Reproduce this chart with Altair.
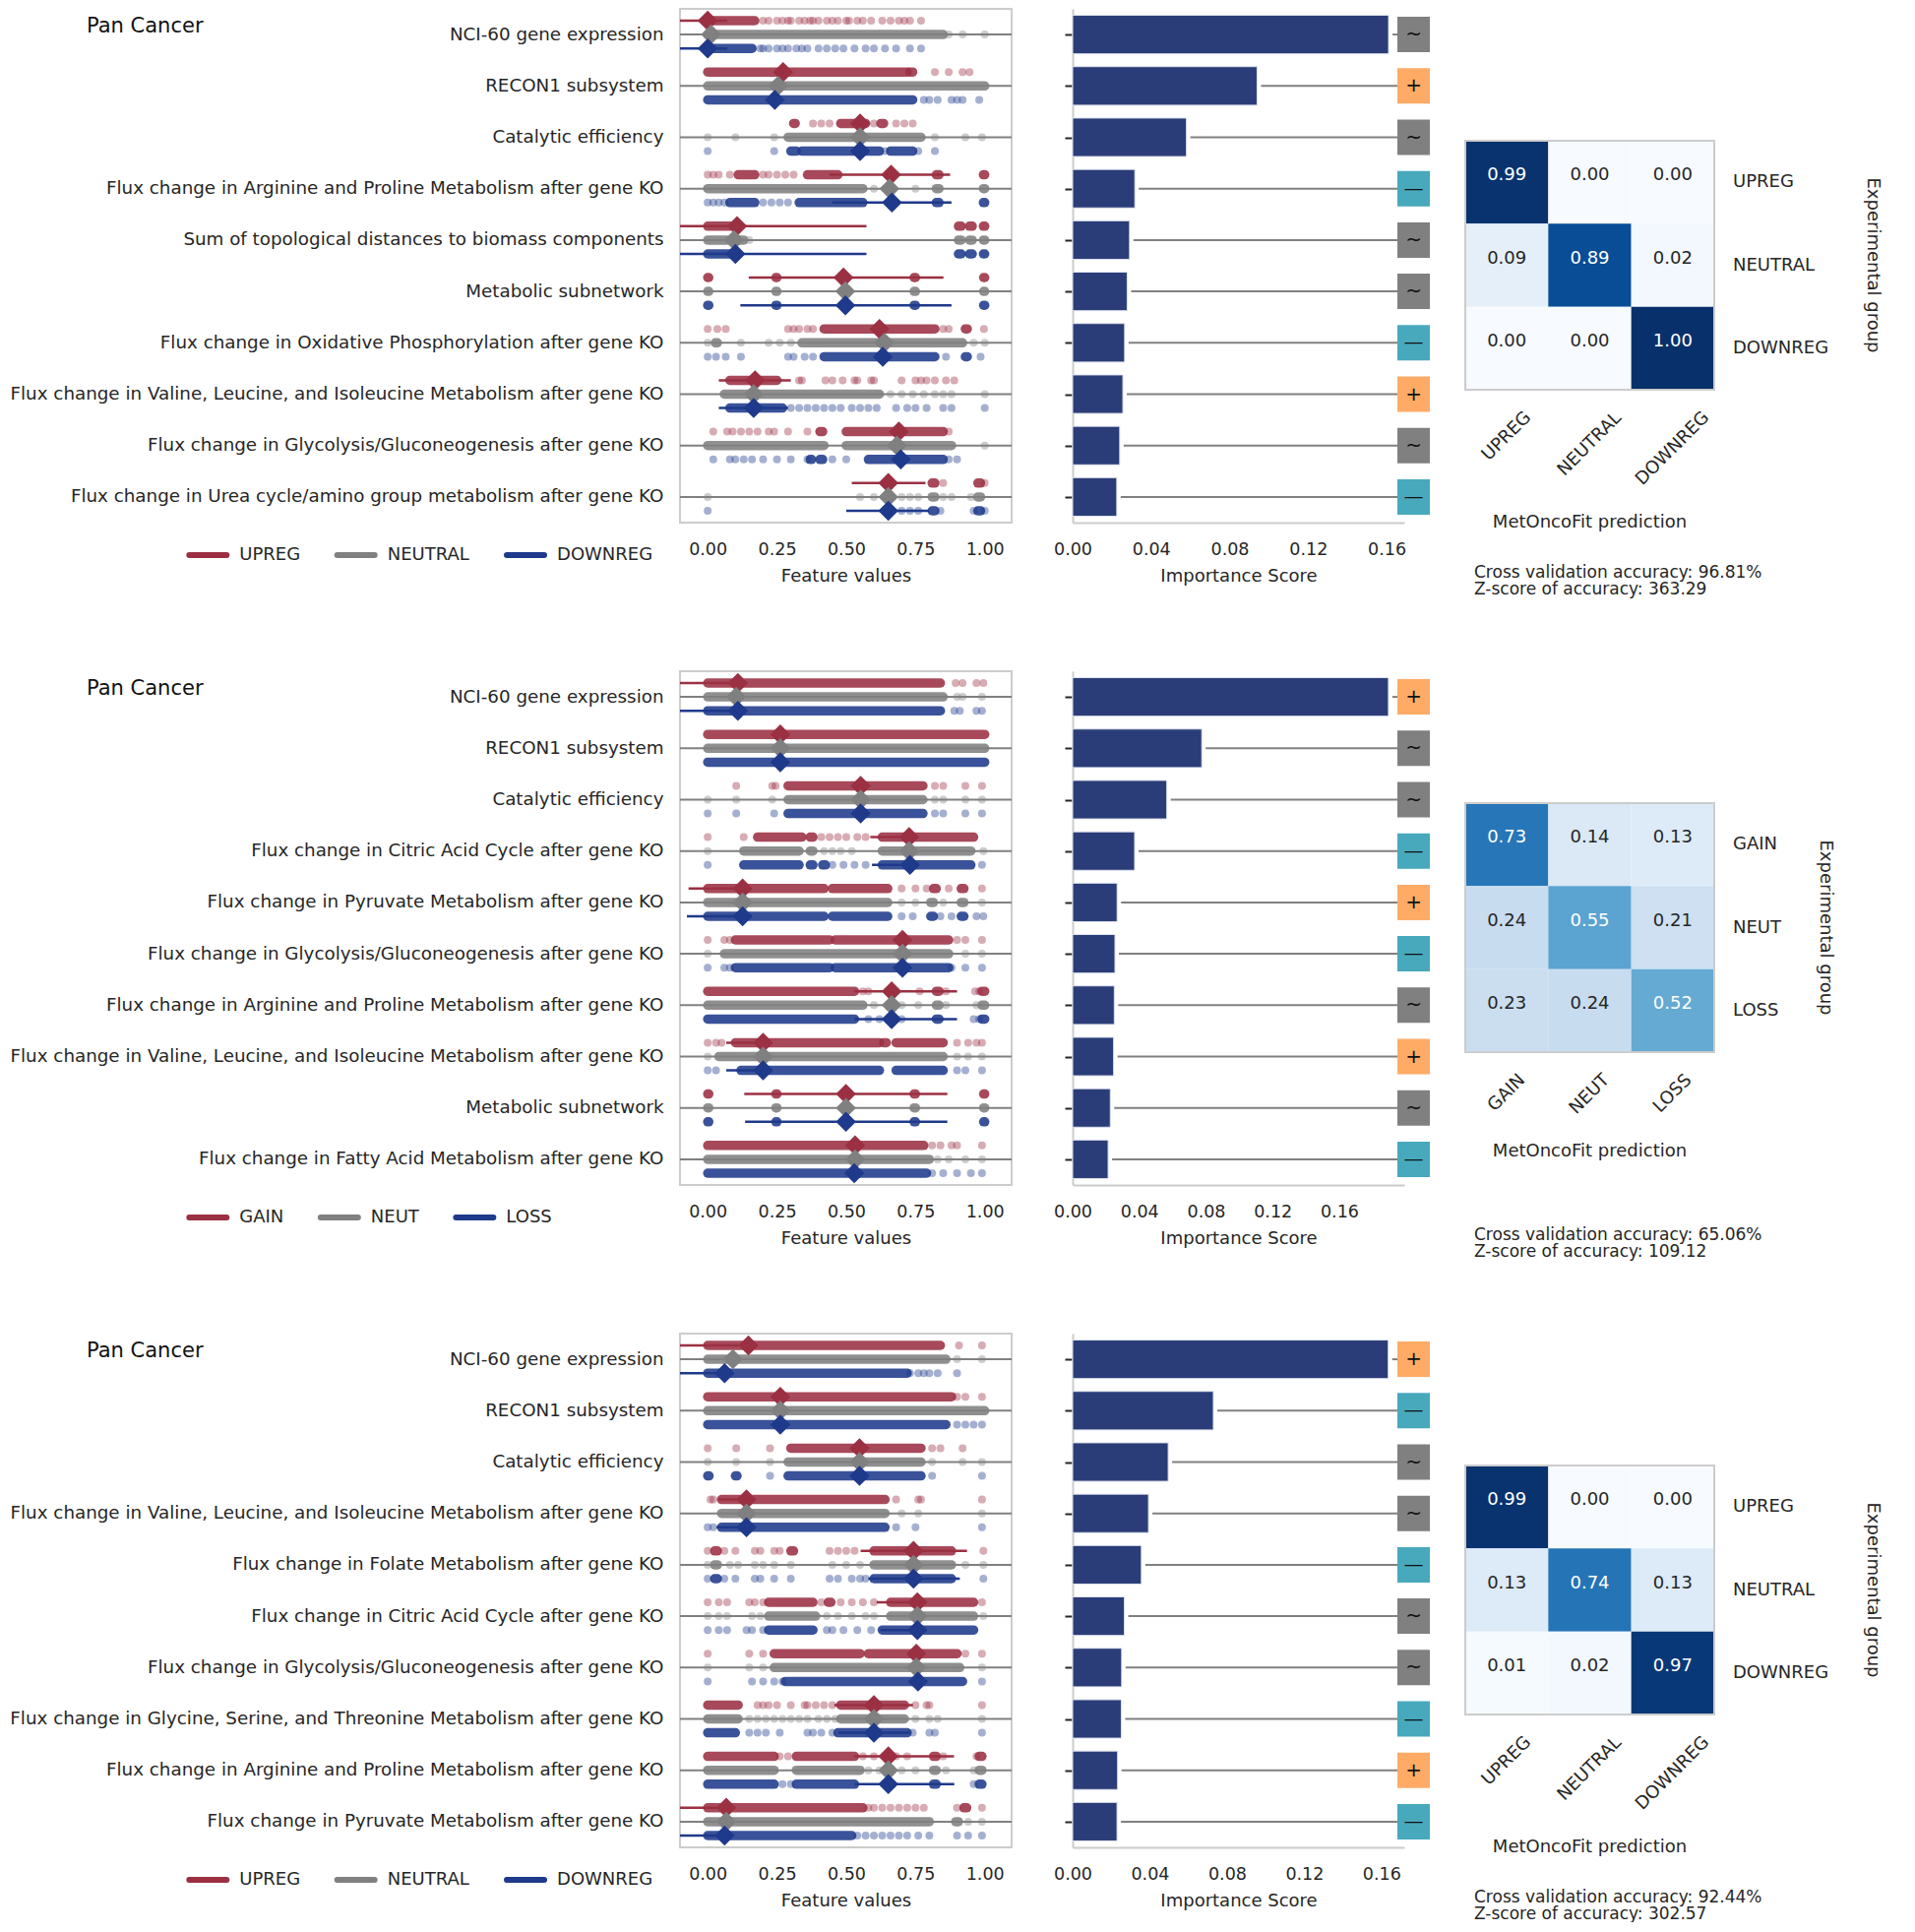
import json
import altair as alt
import pandas as pd

FONT = "DejaVu Sans"
TEXT = "#262626"
FRAME = "#cccccc"
GRAY = "#808080"
RED = "#9b3043"
BLUE = "#1f3a8b"
BAR = "#2b3d78"
SIGN_DOMAIN = ["+", "~", "-"]
SIGN_RANGE = ["#ffab66", "#808080", "#48a9bd"]
SIGN_GLYPH = {"+": "+", "~": "~", "-": "\u2014"}
BLUES_STOPS = [0, 0.125, 0.25, 0.375, 0.5, 0.625, 0.75, 0.875, 1.0]
BLUES = ["#f7fbff", "#deebf7", "#c6dbef", "#9ecae1", "#6baed6", "#4292c6", "#2171b5", "#08519c", "#08306b"]

# ---------------------------------------------------------------- panel 1
P1_TITLE = "Pan Cancer"
P1_GROUPS = ["UPREG", "NEUTRAL", "DOWNREG"]
P1_FEATURES = [
    "NCI-60 gene expression",
    "RECON1 subsystem",
    "Catalytic efficiency",
    "Flux change in Arginine and Proline Metabolism after gene KO",
    "Sum of topological distances to biomass components",
    "Metabolic subnetwork",
    "Flux change in Oxidative Phosphorylation after gene KO",
    "Flux change in Valine, Leucine, and Isoleucine Metabolism after gene KO",
    "Flux change in Glycolysis/Gluconeogenesis after gene KO",
    "Flux change in Urea cycle/amino group metabolism after gene KO",
]
P1_IMPORTANCE = [0.161, 0.094, 0.058, 0.0317, 0.029, 0.0278, 0.0265, 0.0256, 0.024, 0.0225]
P1_SIGNS = ["~", "+", "~", "-", "~", "~", "-", "+", "~", "-"]
P1_XMAX = 0.169
P1_MEAN = [
    [0.0, 0.012, 0.0], [0.272, 0.254, 0.242], [0.55, 0.55, 0.55], [0.662, 0.656, 0.665],
    [0.106, 0.095, 0.1], [0.49, 0.497, 0.497], [0.62, 0.638, 0.632], [0.171, 0.166, 0.166],
    [0.69, 0.683, 0.697], [0.652, 0.652, 0.652],
]
P1_CI = [  # [upper group CI, lower group CI]
    [[-0.1, 0.07], [-0.1, 0.07]], [[0.25, 0.29], [0.22, 0.26]], [[0.53, 0.57], [0.53, 0.57]],
    [[0.44, 0.875], [0.45, 0.88]], [[-0.1, 0.573], [-0.1, 0.573]], [[0.148, 0.851], [0.118, 0.88]],
    [[0.6, 0.64], [0.61, 0.65]], [[0.04, 0.3], [0.04, 0.29]], [[0.67, 0.71], [0.68, 0.72]],
    [[0.52, 0.786], [0.5, 0.8]],
]
P1_DENSE = [
    [[[0.0, 0.17]], [[0.0, 0.85]], [[0.0, 0.16]]],
    [[[0.0, 0.72], [0.73, 0.74]], [[0.0, 1.0]], [[0.0, 0.74]]],
    [[[0.31, 0.316], [0.48, 0.57], [0.625, 0.635]], [[0.29, 0.77]], [[0.3, 0.32], [0.34, 0.62], [0.66, 0.74]]],
    [[[0.11, 0.17], [0.36, 0.47], [0.825, 0.835], [0.995, 1.0]], [[0.0, 0.56], [0.825, 0.835], [0.995, 1.0]],
     [[0.08, 0.17], [0.33, 0.56], [0.825, 0.835], [0.995, 1.0]]],
    [[[0.0, 0.11], [0.905, 0.915], [0.945, 0.955], [0.995, 1.0]], [[0.0, 0.13], [0.905, 0.915], [0.945, 0.955], [0.995, 1.0]],
     [[0.0, 0.11], [0.905, 0.915], [0.945, 0.955], [0.995, 1.0]]],
    [[[0.0, 0.004], [0.246, 0.25], [0.745, 0.75], [0.996, 1.0]], [[0.0, 0.004], [0.246, 0.25], [0.745, 0.75], [0.996, 1.0]],
     [[0.0, 0.004], [0.246, 0.25], [0.745, 0.75], [0.996, 1.0]]],
    [[[0.42, 0.82], [0.93, 0.937]], [[0.028, 0.035], [0.34, 0.92]], [[0.42, 0.82], [0.93, 0.937]]],
    [[[0.08, 0.25]], [[0.06, 0.62]], [[0.08, 0.27]]],
    [[[0.405, 0.415], [0.5, 0.85]], [[0.0, 0.42], [0.5, 0.88]], [[0.37, 0.375], [0.405, 0.415], [0.58, 0.85]]],
    [[[0.81, 0.82], [0.975, 0.985]], [[0.81, 0.82], [0.975, 0.985]], [[0.81, 0.82], [0.975, 0.985]]],
]
P1_DOTS = [
    [[0.2, 0.22, 0.25, 0.27, 0.29, 0.3, 0.33, 0.35, 0.37, 0.38, 0.4, 0.43, 0.45, 0.47, 0.5, 0.51, 0.54, 0.56, 0.59, 0.63, 0.66, 0.69, 0.71, 0.73, 0.77],
     [0.87, 0.92, 1.0],
     [0.19, 0.2, 0.22, 0.25, 0.27, 0.29, 0.32, 0.34, 0.36, 0.4, 0.43, 0.46, 0.49, 0.53, 0.57, 0.6, 0.64, 0.68, 0.73, 0.77]],
    [[0.82, 0.87, 0.92, 0.945], [], [0.78, 0.8, 0.83, 0.88, 0.9, 0.92, 0.98]],
    [[0.38, 0.41, 0.44, 0.6, 0.68, 0.71, 0.74], [0.0, 0.1, 0.24, 0.82, 0.93, 0.99], [0.0, 0.24, 0.64, 0.76, 0.82]],
    [[0.0, 0.02, 0.04, 0.08, 0.2, 0.22, 0.25, 0.28, 0.31], [0.6, 0.75], [0.0, 0.02, 0.04, 0.06, 0.2, 0.23, 0.26, 0.29]],
    [[], [0.15], []],
    [[], [], []],
    [[0.0, 0.035, 0.065, 0.29, 0.31, 0.33, 0.36, 0.38, 0.85, 0.87, 0.997], [0.0, 0.12, 0.22, 0.26, 0.3, 0.96, 1.0],
     [0.0, 0.03, 0.065, 0.12, 0.29, 0.31, 0.35, 0.38, 0.86, 0.985]],
    [[0.33, 0.34, 0.425, 0.45, 0.487, 0.53, 0.54, 0.59, 0.6, 0.7, 0.75, 0.77, 0.79, 0.82, 0.86, 0.89],
     [0.66, 0.7, 0.74, 0.78, 0.82, 0.85, 0.88, 1.0],
     [0.3, 0.33, 0.36, 0.39, 0.42, 0.45, 0.48, 0.52, 0.55, 0.58, 0.61, 0.68, 0.72, 0.75, 0.79, 0.85, 0.88, 1.0]],
    [[0.02, 0.07, 0.09, 0.12, 0.15, 0.18, 0.22, 0.24, 0.29, 0.36, 0.87], [1.0],
     [0.02, 0.08, 0.1, 0.13, 0.16, 0.2, 0.25, 0.3, 0.36, 0.45, 0.5, 0.87, 0.9]],
    [[0.85, 1.0], [0.0, 0.55, 0.6, 0.7, 0.73, 0.76, 0.85, 0.88, 0.95], [0.0, 0.7, 0.73, 0.76, 0.84, 0.96, 1.0]],
]
P1_CONF = [[0.99, 0.00, 0.00], [0.09, 0.89, 0.02], [0.00, 0.00, 1.00]]
P1_ACC = "96.81%"
P1_Z = "363.29"

# ---------------------------------------------------------------- panel 2
P2_TITLE = "Pan Cancer"
P2_GROUPS = ["GAIN", "NEUT", "LOSS"]
P2_FEATURES = [
    "NCI-60 gene expression",
    "RECON1 subsystem",
    "Catalytic efficiency",
    "Flux change in Citric Acid Cycle after gene KO",
    "Flux change in Pyruvate Metabolism after gene KO",
    "Flux change in Glycolysis/Gluconeogenesis after gene KO",
    "Flux change in Arginine and Proline Metabolism after gene KO",
    "Flux change in Valine, Leucine, and Isoleucine Metabolism after gene KO",
    "Metabolic subnetwork",
    "Flux change in Fatty Acid Metabolism after gene KO",
]
P2_IMPORTANCE = [0.1895, 0.0775, 0.0565, 0.0372, 0.0267, 0.0254, 0.025, 0.0246, 0.0226, 0.0213]
P2_SIGNS = ["+", "~", "~", "-", "+", "-", "~", "+", "~", "-"]
P2_XMAX = 0.199
P2_MEAN = [
    [0.109, 0.103, 0.109], [0.262, 0.262, 0.262], [0.552, 0.552, 0.552], [0.727, 0.727, 0.73],
    [0.126, 0.126, 0.126], [0.703, 0.703, 0.703], [0.664, 0.664, 0.664], [0.2, 0.2, 0.2],
    [0.499, 0.499, 0.499], [0.532, 0.532, 0.529],
]
P2_CI = [
    [[-0.1, 0.12], [-0.1, 0.12]], [[0.25, 0.28], [0.25, 0.28]], [[0.54, 0.57], [0.54, 0.57]],
    [[0.587, 0.75], [0.593, 0.75]], [[-0.069, 0.13], [-0.075, 0.13]], [[0.69, 0.72], [0.69, 0.72]],
    [[0.528, 0.9], [0.53, 0.9]], [[0.067, 0.21], [0.067, 0.21]], [[0.132, 0.865], [0.135, 0.865]],
    [[0.52, 0.55], [0.52, 0.55]],
]
P2_DENSE = [
    [[[0.0, 0.84]], [[0.0, 0.85]], [[0.0, 0.84]]],
    [[[0.0, 1.0]], [[0.0, 1.0]], [[0.0, 1.0]]],
    [[[0.29, 0.777]], [[0.29, 0.777]], [[0.29, 0.777]]],
    [[[0.18, 0.34], [0.37, 0.38], [0.63, 0.96]], [[0.13, 0.33], [0.37, 0.38], [0.63, 0.95]],
     [[0.13, 0.33], [0.37, 0.38], [0.415, 0.425], [0.63, 0.95]]],
    [[[0.0, 0.42], [0.45, 0.65], [0.815, 0.825], [0.915, 0.925]], [[0.0, 0.65], [0.805, 0.815], [0.915, 0.925]],
     [[0.0, 0.42], [0.45, 0.65], [0.805, 0.815], [0.915, 0.925]]],
    [[[0.1, 0.44], [0.46, 0.87]], [[0.06, 0.87]], [[0.1, 0.44], [0.46, 0.87]]],
    [[[0.0, 0.53], [0.825, 0.835], [0.99, 1.0]], [[0.0, 0.56], [0.825, 0.835], [0.99, 1.0]],
     [[0.0, 0.53], [0.825, 0.835], [0.99, 1.0]]],
    [[[0.1, 0.62], [0.635, 0.645], [0.68, 0.85]], [[0.04, 0.85]], [[0.12, 0.62], [0.68, 0.85]]],
    [[[0.0, 0.004], [0.246, 0.25], [0.745, 0.75], [0.996, 1.0]], [[0.0, 0.004], [0.246, 0.25], [0.745, 0.75], [0.996, 1.0]],
     [[0.0, 0.004], [0.246, 0.25], [0.745, 0.75], [0.996, 1.0]]],
    [[[0.0, 0.78]], [[0.0, 0.8]], [[0.0, 0.79]]],
]
P2_DOTS = [
    [[0.895, 0.92, 0.97, 0.995], [0.9, 0.92, 0.99], [0.89, 0.91, 0.97, 0.99]],
    [[], [], []],
    [[0.103, 0.233, 0.245, 0.82, 0.85, 0.93, 0.99], [0.0, 0.103, 0.233, 0.82, 0.85, 0.93, 0.99],
     [0.0, 0.103, 0.24, 0.82, 0.85, 0.93, 0.99]],
    [[0.0, 0.13, 0.41, 0.44, 0.47, 0.5, 0.54, 0.57], [0.0, 0.42, 0.45, 0.48, 0.52, 0.995], [0.0, 0.45, 0.49, 0.53, 0.57, 0.99]],
    [[0.7, 0.75, 0.79, 0.87, 0.99], [0.7, 0.75, 0.85, 0.99], [0.7, 0.74, 0.84, 0.88, 0.97, 0.995]],
    [[0.0, 0.06, 0.08, 0.9, 0.93, 0.99], [0.0, 0.93, 0.99], [0.0, 0.06, 0.08, 0.88, 0.93, 0.99]],
    [[0.56, 0.58, 0.765, 0.86, 0.965, 0.98], [0.6, 0.7, 0.76, 0.86, 0.97], [0.58, 0.62, 0.7, 0.96, 0.98]],
    [[0.0, 0.03, 0.05, 0.9, 0.94, 0.97, 0.99], [0.0, 0.9, 0.94, 0.99], [0.0, 0.03, 0.9, 0.93, 0.99]],
    [[], [], []],
    [[0.81, 0.84, 0.88, 0.9, 0.99], [0.83, 0.87, 0.93, 0.99], [0.81, 0.85, 0.9, 0.95, 0.99]],
]
P2_CONF = [[0.73, 0.14, 0.13], [0.24, 0.55, 0.21], [0.23, 0.24, 0.52]]
P2_ACC = "65.06%"
P2_Z = "109.12"

# ---------------------------------------------------------------- panel 3
P3_TITLE = "Pan Cancer"
P3_GROUPS = ["UPREG", "NEUTRAL", "DOWNREG"]
P3_FEATURES = [
    "NCI-60 gene expression",
    "RECON1 subsystem",
    "Catalytic efficiency",
    "Flux change in Valine, Leucine, and Isoleucine Metabolism after gene KO",
    "Flux change in Folate Metabolism after gene KO",
    "Flux change in Citric Acid Cycle after gene KO",
    "Flux change in Glycolysis/Gluconeogenesis after gene KO",
    "Flux change in Glycine, Serine, and Threonine Metabolism after gene KO",
    "Flux change in Arginine and Proline Metabolism after gene KO",
    "Flux change in Pyruvate Metabolism after gene KO",
]
P3_IMPORTANCE = [0.1635, 0.0729, 0.0495, 0.0393, 0.0356, 0.0268, 0.0254, 0.0252, 0.0233, 0.023]
P3_SIGNS = ["+", "-", "~", "~", "-", "~", "~", "-", "+", "-"]
P3_XMAX = 0.1718
P3_MEAN = [
    [0.147, 0.091, 0.061], [0.262, 0.262, 0.262], [0.548, 0.548, 0.548], [0.14, 0.14, 0.14],
    [0.743, 0.743, 0.743], [0.757, 0.757, 0.757], [0.753, 0.753, 0.759], [0.6, 0.6, 0.6],
    [0.652, 0.652, 0.652], [0.067, 0.067, 0.061],
]
P3_CI = [
    [[-0.1, 0.16], [-0.1, 0.07]], [[0.25, 0.28], [0.25, 0.28]], [[0.53, 0.57], [0.53, 0.57]],
    [[0.038, 0.16], [0.032, 0.16]], [[0.552, 0.936], [0.58, 0.91]], [[0.61, 0.77], [0.623, 0.77]],
    [[0.74, 0.77], [0.74, 0.77]], [[0.457, 0.741], [0.47, 0.73]], [[0.528, 0.889], [0.53, 0.89]],
    [[-0.1, 0.08], [-0.1, 0.07]],
]
P3_DENSE = [
    [[[0.0, 0.84]], [[0.0, 0.86]], [[0.0, 0.72]]],
    [[[0.0, 0.88]], [[0.0, 1.0]], [[0.0, 0.86]]],
    [[[0.3, 0.77]], [[0.29, 0.77]], [[0.0, 0.005], [0.1, 0.106], [0.29, 0.77]]],
    [[[0.05, 0.64]], [[0.05, 0.64]], [[0.05, 0.64]]],
    [[[0.025, 0.035], [0.3, 0.31], [0.6, 0.88]], [[0.025, 0.035], [0.6, 0.88]], [[0.025, 0.035], [0.6, 0.88]]],
    [[[0.22, 0.38], [0.435, 0.445], [0.66, 0.96]], [[0.22, 0.39], [0.66, 0.96]], [[0.22, 0.38], [0.63, 0.96]]],
    [[[0.24, 0.55], [0.58, 0.9]], [[0.24, 0.91]], [[0.28, 0.92]]],
    [[[0.0, 0.11], [0.48, 0.71]], [[0.0, 0.11], [0.48, 0.71]], [[0.0, 0.1], [0.47, 0.72]]],
    [[[0.0, 0.24], [0.32, 0.53], [0.815, 0.825], [0.98, 0.99]], [[0.0, 0.24], [0.32, 0.55], [0.815, 0.825], [0.98, 0.99]],
     [[0.0, 0.24], [0.32, 0.53], [0.815, 0.825], [0.98, 0.99]]],
    [[[0.0, 0.56], [0.925, 0.935]], [[0.0, 0.8], [0.895, 0.905]], [[0.0, 0.52]]],
]
P3_DOTS = [
    [[0.907, 0.99], [0.9, 0.99], [0.73, 0.76, 0.78, 0.8, 0.83, 0.9]],
    [[0.9, 0.93, 0.99], [], [0.9, 0.93, 0.96, 0.99]],
    [[0.0, 0.103, 0.225, 0.81, 0.84, 0.92], [0.0, 0.103, 0.225, 0.81, 0.92, 0.99], [0.225, 0.81, 0.99]],
    [[0.01, 0.02, 0.68, 0.76, 0.77, 0.99], [0.7, 0.76, 0.99], [0.0, 0.02, 0.68, 0.75, 0.99]],
    [[0.0, 0.06, 0.1, 0.17, 0.19, 0.24, 0.26, 0.44, 0.47, 0.5, 0.53, 0.995],
     [0.0, 0.08, 0.11, 0.17, 0.2, 0.24, 0.3, 0.45, 0.5, 0.55, 0.93, 0.995],
     [0.0, 0.06, 0.1, 0.17, 0.19, 0.24, 0.3, 0.44, 0.47, 0.52, 0.55, 0.57, 0.995]],
    [[0.0, 0.04, 0.07, 0.15, 0.17, 0.2, 0.41, 0.48, 0.52, 0.56, 0.6, 0.99],
     [0.0, 0.04, 0.07, 0.16, 0.19, 0.43, 0.47, 0.52, 0.57, 0.6, 0.995],
     [0.0, 0.04, 0.07, 0.14, 0.16, 0.2, 0.43, 0.45, 0.49, 0.54, 0.59]],
    [[0.0, 0.15, 0.2, 0.93, 0.99], [0.0, 0.15, 0.2, 0.99], [0.0, 0.16, 0.2, 0.24, 0.27, 0.99]],
    [[0.18, 0.2, 0.22, 0.25, 0.3, 0.35, 0.36, 0.39, 0.42, 0.45, 0.75, 0.79, 0.8, 0.99],
     [0.15, 0.18, 0.21, 0.24, 0.27, 0.3, 0.33, 0.36, 0.4, 0.43, 0.46, 0.75, 0.8, 0.83, 0.99],
     [0.15, 0.18, 0.21, 0.26, 0.36, 0.38, 0.41, 0.45, 0.74, 0.8, 0.82, 0.99]],
    [[0.26, 0.29, 0.56, 0.6, 0.68, 0.72, 0.85, 0.97], [0.58, 0.62, 0.7, 0.75, 0.86, 0.96], [0.27, 0.3, 0.96]],
    [[0.58, 0.6, 0.63, 0.66, 0.69, 0.72, 0.75, 0.78, 0.9, 0.99], [0.94, 0.99],
     [0.54, 0.57, 0.6, 0.63, 0.66, 0.69, 0.72, 0.76, 0.8, 0.9, 0.94, 0.99]],
]
P3_CONF = [[0.99, 0.00, 0.00], [0.13, 0.74, 0.13], [0.01, 0.02, 0.97]]
P3_ACC = "92.44%"
P3_Z = "302.57"

# ---------------------------------------------------------------- layout / style
PW = 337          # width of strip and bar panels
PH = 522          # height of every panel
OFFS = [-0.27, 0.0, 0.27]
GROUP_COLORS = [RED, GRAY, BLUE]
FS = 18
TICK_FS = 17.5
LABEL_FS = 18.3
MAT_W = 253
MAT_TOP, MAT_BOT = 134, 387
CELL = (MAT_BOT - MAT_TOP) / 3.0

CW = {'A': .684, 'B': .686, 'C': .698, 'D': .770, 'E': .632, 'F': .575, 'G': .775, 'H': .752,
      'I': .295, 'K': .656, 'L': .557, 'M': .863, 'N': .748, 'O': .787, 'P': .603, 'R': .695,
      'S': .635, 'T': .611, 'U': .732, 'V': .684, 'W': .989, ' ': .318}


def text_w(s, size):
    return sum(CW.get(ch, 0.6) for ch in s) * size


def yscale():
    return alt.Scale(domain=[-0.5, 9.5], reverse=True, nice=False, zero=False)


def strip_panel(title, groups, features, mean, ci, dense, dots):
    dense_rows, dot_rows, ci_rows, mean_rows = [], [], [], []
    for i in range(len(features)):
        for g in range(3):
            y = i + OFFS[g]
            for lo, hi in dense[i][g]:
                dense_rows.append(dict(y=y, lo=lo, hi=hi, g=groups[g]))
            for v in dots[i][g]:
                dot_rows.append(dict(y=y, v=v, g=groups[g]))
            mean_rows.append(dict(y=y, m=mean[i][g], g=groups[g]))
        for g, (lo, hi) in zip((0, 2), ci[i]):
            ci_rows.append(dict(y=i + OFFS[g], lo=lo, hi=hi, g=groups[g]))

    xs = alt.Scale(domain=[-0.1, 1.097], nice=False, zero=False)
    xaxis = alt.Axis(values=[0, 0.25, 0.5, 0.75, 1.0], format=".2f", title="Feature values",
                     ticks=False, tickSize=0, domain=False, grid=False, labelFontSize=TICK_FS,
                     labelPadding=18, labelFlush=False, labelOverlap=False,
                     titleFontSize=FS, titlePadding=10)
    yaxis = alt.Axis(values=list(range(len(features))),
                     labelExpr=json.dumps(features) + "[datum.value]",
                     ticks=False, tickSize=0, domain=False, grid=False, title=None,
                     labelFontSize=LABEL_FS, labelPadding=17, labelLimit=2000, labelOverlap=False)
    cscale = alt.Scale(domain=groups, range=GROUP_COLORS)
    col = alt.Color("g:N", scale=cscale, legend=None)

    def X(f):
        return alt.X(f, scale=xs, axis=xaxis)

    def Y(f):
        return alt.Y(f, scale=yscale(), axis=yaxis)

    lines = alt.Chart(pd.DataFrame({"i": list(range(len(features)))})).mark_rule(
        color=GRAY, strokeWidth=2).encode(x=alt.value(0), x2=alt.value(PW), y=Y("i:Q"))
    dense_l = alt.Chart(pd.DataFrame(dense_rows)).mark_rule(
        strokeWidth=9.5, strokeCap="round", opacity=0.88, clip=True).encode(
        x=X("lo:Q"), x2="hi:Q", y=Y("y:Q"), color=col)
    dots_l = alt.Chart(pd.DataFrame(dot_rows)).mark_circle(size=64, opacity=0.4, clip=True).encode(
        x=X("v:Q"), y=Y("y:Q"), color=col)
    ci_l = alt.Chart(pd.DataFrame(ci_rows)).mark_rule(strokeWidth=2.5, clip=True).encode(
        x=X("lo:Q"), x2="hi:Q", y=Y("y:Q"), color=col)
    mean_l = alt.Chart(pd.DataFrame(mean_rows)).mark_point(
        shape="diamond", filled=True, size=420, opacity=1, strokeWidth=0).encode(
        x=X("m:Q"), y=Y("y:Q"), color=col)
    title_l = alt.Chart(pd.DataFrame({"t": [title]})).mark_text(
        align="left", baseline="middle", fontSize=21, color="#111111").encode(
        x=alt.value(-603), y=alt.value(18), text="t:N")

    # legend (lines with round caps + labels) below the strip panel
    leg = []
    xstart = -501.7
    for g in groups:
        leg.append(dict(g=g, x0=xstart + 3, x1=xstart + 41, xt=xstart + 54))
        xstart = xstart + 54 + text_w(g, FS) + 34.5
    legdf = pd.DataFrame(leg)
    leg_lines = alt.Chart(legdf).mark_rule(strokeWidth=6, strokeCap="round").encode(
        x=alt.X("x0:Q", scale=None, axis=None), x2="x1:Q", y=alt.value(PH + 33), color=col)
    leg_text = alt.Chart(legdf).mark_text(align="left", baseline="middle", fontSize=FS, color=TEXT).encode(
        x=alt.X("xt:Q", scale=None, axis=None), y=alt.value(PH + 33), text="g:N")

    return alt.layer(lines, dense_l, dots_l, ci_l, mean_l, title_l, leg_lines, leg_text).properties(
        width=PW, height=PH, view=alt.ViewBackground(stroke=FRAME, strokeWidth=2))


def bar_panel(features, imp, signs, xmax):
    n = len(features)
    df = pd.DataFrame({"i": list(range(n)), "imp": imp, "sign": signs})
    df["zero"] = 0.0
    df["y0"] = df["i"] - 0.375
    df["y1"] = df["i"] + 0.375
    df["b0"] = df["i"] - 0.345
    df["b1"] = df["i"] + 0.345
    df["sym"] = df["sign"].map(SIGN_GLYPH)

    xs = alt.Scale(domain=[0, xmax], nice=False, zero=False)
    xaxis = alt.Axis(values=[0, 0.04, 0.08, 0.12, 0.16], format=".2f", title="Importance Score",
                     ticks=False, tickSize=0, domain=True, domainColor=FRAME, domainWidth=2, grid=False,
                     labelFontSize=TICK_FS, labelPadding=18, labelFlush=False, labelOverlap=False,
                     titleFontSize=FS, titlePadding=10)
    yaxis = alt.Axis(values=list(range(n)), labels=False, ticks=True, tickSize=8, tickWidth=2,
                     tickColor=TEXT, domain=True, domainColor=FRAME, domainWidth=2, grid=False, title=None)

    def X(f):
        return alt.X(f, scale=xs, axis=xaxis)

    def Y(f):
        return alt.Y(f, scale=yscale(), axis=yaxis)

    base = alt.Chart(df)
    bars = base.mark_rect(color=BAR, stroke="#dfe3ee", strokeWidth=1).encode(
        x=X("zero:Q"), x2="imp:Q", y=Y("y0:Q"), y2="y1:Q")
    conn = base.mark_rule(color=GRAY, strokeWidth=2, xOffset=4).encode(
        x=X("imp:Q"), x2=alt.value(330), y=Y("i:Q"))
    boxes = base.mark_rect().encode(
        x=alt.value(330), x2=alt.value(363), y=Y("b0:Q"), y2="b1:Q",
        color=alt.Color("sign:N", scale=alt.Scale(domain=SIGN_DOMAIN, range=SIGN_RANGE), legend=None))
    syms = base.mark_text(fontSize=20, color="#111111", baseline="middle").encode(
        x=alt.value(346.5), y=Y("i:Q"), text="sym:N")
    return alt.layer(bars, conn, boxes, syms).properties(width=PW, height=PH)


def matrix_panel(groups, conf, acc, z):
    cells = []
    for r in range(3):
        for c in range(3):
            cells.append(dict(r0=r, r1=r + 1, c0=c, c1=c + 1, cx=c + 0.5, cy=r + 0.5,
                              v=conf[r][c], lab=f"{conf[r][c]:.2f}"))
    cdf = pd.DataFrame(cells)
    xs = alt.Scale(domain=[0, 3], range=[0, MAT_W], nice=False, zero=False)
    ys = alt.Scale(domain=[0, 3], range=[MAT_TOP, MAT_BOT], nice=False, zero=False)

    def X(f):
        return alt.X(f, scale=xs, axis=None)

    def Y(f):
        return alt.Y(f, scale=ys, axis=None)

    rect = alt.Chart(cdf).mark_rect().encode(
        x=X("c0:Q"), x2="c1:Q", y=Y("r0:Q"), y2="r1:Q",
        color=alt.Color("v:Q", scale=alt.Scale(domain=BLUES_STOPS, range=BLUES, interpolate="rgb"),
                        legend=None))
    vals = alt.Chart(cdf).mark_text(fontSize=FS, baseline="middle", dy=-7).encode(
        x=X("cx:Q"), y=Y("cy:Q"), text="lab:N",
        color=alt.condition("datum.v > 0.5", alt.value("white"), alt.value(TEXT)))
    border = alt.Chart(pd.DataFrame({"a": [0], "b": [3]})).mark_rect(
        fillOpacity=0, stroke=FRAME, strokeWidth=2).encode(x=X("a:Q"), x2="b:Q", y=Y("a:Q"), y2="b:Q")

    rdf = pd.DataFrame({"lab": groups, "x": [3, 3, 3], "y": [0.5, 1.5, 2.5]})
    rlabels = alt.Chart(rdf).mark_text(align="left", baseline="middle", dx=19, fontSize=FS, color=TEXT).encode(
        x=X("x:Q"), y=Y("y:Q"), text="lab:N")

    bbox = [0.707 * (text_w(g, FS) + 13) for g in groups]
    ldf = pd.DataFrame({"lab": groups, "x": [0.5, 1.5, 2.5],
                        "y": [3 + (21 + b / 2) / CELL for b in bbox]})
    clabels = alt.Chart(ldf).mark_text(angle=315, align="center", baseline="middle", fontSize=FS, color=TEXT).encode(
        x=X("x:Q"), y=Y("y:Q"), text="lab:N")

    xt = pd.DataFrame({"t": ["MetOncoFit prediction"], "x": [1.5], "y": [3 + (21 + max(bbox) + 36) / CELL]})
    xtitle = alt.Chart(xt).mark_text(baseline="middle", fontSize=FS, color=TEXT).encode(
        x=X("x:Q"), y=Y("y:Q"), text="t:N")

    maxw = max(text_w(g, FS) for g in groups)
    yt = pd.DataFrame({"t": ["Experimental group"], "x": [3 + (19 + maxw + 45) / CELL], "y": [1.5]})
    ytitle = alt.Chart(yt).mark_text(angle=90, align="center", baseline="middle", fontSize=FS, color=TEXT).encode(
        x=X("x:Q"), y=Y("y:Q"), text="t:N")

    cv = pd.DataFrame({"t": [f"Cross validation accuracy: {acc}", f"Z-score of accuracy: {z}"],
                       "x": [0, 0], "y": [3 + 185.5 / CELL, 3 + 202.5 / CELL]})
    cvt = alt.Chart(cv).mark_text(align="left", baseline="middle", dx=9, fontSize=17, color=TEXT).encode(
        x=X("x:Q"), y=Y("y:Q"), text="t:N")

    return alt.layer(rect, vals, border, rlabels, clabels, xtitle, ytitle, cvt).properties(
        width=MAT_W, height=PH)


panels = [
    (P1_TITLE, P1_GROUPS, P1_FEATURES, P1_MEAN, P1_CI, P1_DENSE, P1_DOTS, P1_IMPORTANCE, P1_SIGNS, P1_XMAX, P1_CONF, P1_ACC, P1_Z),
    (P2_TITLE, P2_GROUPS, P2_FEATURES, P2_MEAN, P2_CI, P2_DENSE, P2_DOTS, P2_IMPORTANCE, P2_SIGNS, P2_XMAX, P2_CONF, P2_ACC, P2_Z),
    (P3_TITLE, P3_GROUPS, P3_FEATURES, P3_MEAN, P3_CI, P3_DENSE, P3_DOTS, P3_IMPORTANCE, P3_SIGNS, P3_XMAX, P3_CONF, P3_ACC, P3_Z),
]

cells = []
for (title, groups, feats, mean, ci, dense, dots, imp, signs, xmax, conf, acc, z) in panels:
    cells.append(strip_panel(title, groups, feats, mean, ci, dense, dots))
    cells.append(bar_panel(feats, imp, signs, xmax))
    cells.append(matrix_panel(groups, conf, acc, z))

chart = alt.concat(*cells, columns=3, spacing={"row": 151, "column": 62}, bounds="flush").resolve_scale(
    color="independent", x="independent", y="independent"
).properties(padding={"left": 0, "top": 0, "right": 22, "bottom": 0}).configure(font=FONT).configure_view(
    stroke=None
).configure_axis(
    labelFont=FONT, titleFont=FONT, labelColor=TEXT, titleColor=TEXT, titleFontWeight="normal", grid=False
).configure_text(font=FONT)

chart.save("out.html", embed_options={"renderer": "svg", "actions": False})
